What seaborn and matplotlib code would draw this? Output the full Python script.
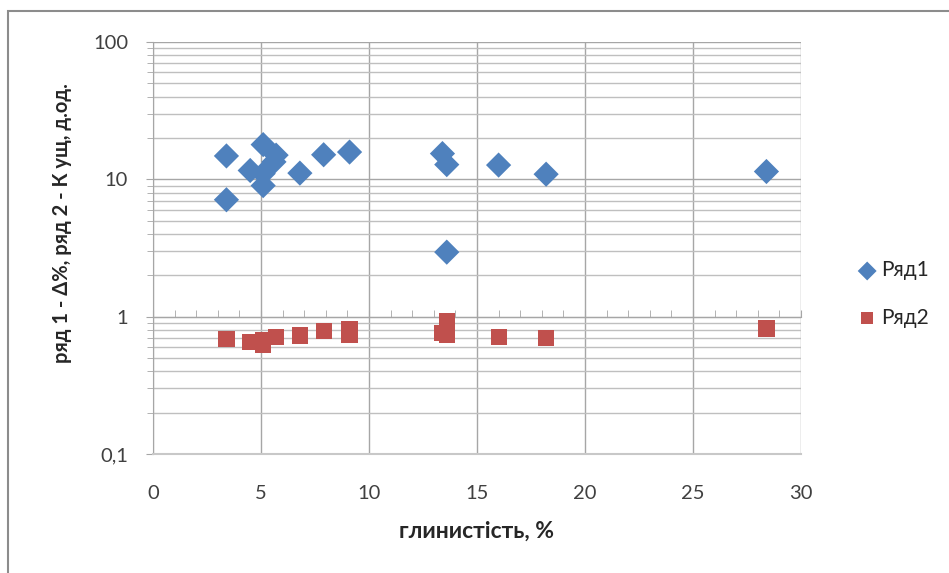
import numpy as np
import pandas as pd
import seaborn as sns
import matplotlib.pyplot as plt
from matplotlib.ticker import FixedLocator, FuncFormatter, MultipleLocator, NullFormatter
from matplotlib.patches import Rectangle

# series 1 (Δ%)
x1 = [3.4, 3.4, 4.5, 5.1, 5.1, 5.1, 5.7, 5.6, 6.8, 7.9, 9.1, 13.4, 13.6, 13.6, 16.0, 18.2, 28.4]
y1 = [14.8, 7.1, 11.6, 17.9, 11.0, 9.0, 15.0, 13.4, 11.1, 15.1, 15.8, 15.4, 12.8, 2.95, 12.7, 10.9, 11.4]
# series 2 (K ущ)
x2 = [3.4, 4.5, 5.1, 5.1, 5.7, 6.8, 7.9, 9.1, 9.1, 13.4, 13.6, 13.6, 16.0, 18.2, 28.4]
y2 = [0.69, 0.65, 0.67, 0.62, 0.71, 0.73, 0.79, 0.81, 0.74, 0.755, 0.935, 0.735, 0.71, 0.695, 0.82]

names = ["Ряд1", "Ряд2"]
xticks = [0, 5, 10, 15, 20, 25, 30]
yticks = [0.1, 1, 10, 100]

d1 = pd.DataFrame({"x": x1, "y": y1})
d2 = pd.DataFrame({"x": x2, "y": y2})

sns.set_style("white")
plt.rcParams['font.family'] = ['Lato', 'DejaVu Sans']

fig = plt.figure(figsize=(9.49, 5.73), dpi=100)
ax = fig.add_axes([153 / 949, 1 - 454 / 573, 648 / 949, 412 / 573])

ax.set_yscale("log")
ax.set_xlim(0, 30)
ax.set_ylim(0.1, 100)

# grid
ax.yaxis.set_major_locator(FixedLocator(yticks))
ax.yaxis.set_minor_locator(FixedLocator([m * 10.0 ** e for e in range(-1, 2) for m in range(2, 10)]))
ax.yaxis.set_major_formatter(FuncFormatter(lambda v, p: ("%g" % v).replace(".", ",")))
ax.yaxis.set_minor_formatter(NullFormatter())
ax.xaxis.set_major_locator(FixedLocator(xticks))
ax.grid(True, which="major", axis="both", color="#a6a6a6", lw=1)
ax.grid(True, which="minor", axis="y", color="#bfbfbf", lw=1)
ax.set_axisbelow(True)

sns.scatterplot(data=d1, x="x", y="y", marker="D", s=165, color="#4F81BD",
                edgecolor="none", label=names[0], ax=ax, zorder=3)
sns.scatterplot(data=d2, x="x", y="y", marker="s", s=135, color="#C0504D",
                edgecolor="none", label=names[1], ax=ax, zorder=3)

for side in ["top", "right"]:
    ax.spines[side].set_visible(False)
ax.spines["left"].set_color("#a6a6a6")
ax.spines["bottom"].set_color("#c8c8c8")
ax.spines["bottom"].set_linewidth(1.5)

ax.tick_params(axis="y", which="both", direction="out", left=True, color="#a6a6a6",
               labelsize=14.5, pad=13, labelcolor="#404040")
ax.tick_params(axis="y", which="major", length=5)
ax.tick_params(axis="y", which="minor", length=4)
ax.tick_params(axis="x", which="both", bottom=False, labelsize=14.5, pad=19, labelcolor="#404040")

# horizontal axis line crossing at 1, with unit minor ticks
sec = ax.secondary_xaxis(1 / 3)
sec.spines["bottom"].set_color("#a6a6a6")
sec.xaxis.set_major_locator(FixedLocator(xticks))
sec.xaxis.set_minor_locator(MultipleLocator(1))
sec.tick_params(which="both", direction="in", color="#a6a6a6", labelbottom=False, length=5)

ax.set_xlabel("")
ax.set_ylabel("")
fig.text(477 / 949, 1 - 531 / 573, "глинистість, %", ha="center", va="center",
         fontsize=16.5, fontweight="bold", color="#262626")
fig.text(62 / 949, 1 - 223 / 573, "ряд 1 - Δ%, ряд 2 - К ущ, д.од.", ha="center", va="center",
         rotation=90, fontsize=14.5, fontweight="bold", color="#262626")

ax.legend(loc="center left", bbox_to_anchor=(838 / 949, 1 - 294 / 573),
          bbox_transform=fig.transFigure, frameon=False, fontsize=15,
          labelspacing=1.3, handlelength=1, handletextpad=0.15, markerscale=0.75)

fig.patches.append(Rectangle((8 / 949, -0.1), 1.1, 1 - 11 / 573 + 0.1, transform=fig.transFigure,
                             fill=False, edgecolor="#8c8c8c", lw=1.5))

fig.savefig("out.png", dpi=100)
